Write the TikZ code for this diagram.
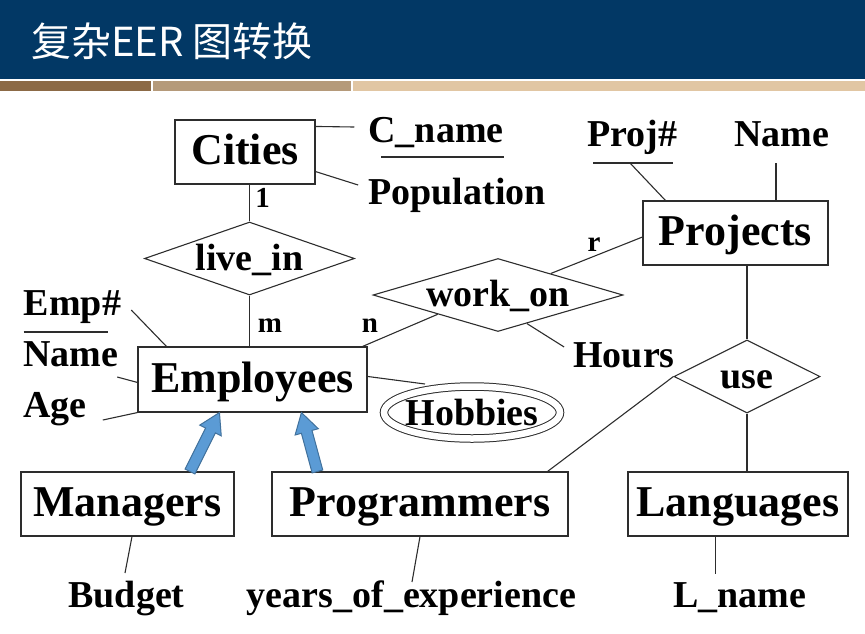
\documentclass[tikz,border=0pt]{standalone}
\usepackage{fontspec}
\setmainfont{Liberation Serif}
\newfontfamily\cjkfont{Noto Sans CJK SC}
\usetikzlibrary{shapes.geometric,calc}
\definecolor{band}{RGB}{2,56,101}
\definecolor{stripeA}{RGB}{140,106,70}
\definecolor{stripeB}{RGB}{181,154,122}
\definecolor{stripeC}{RGB}{225,198,163}
\definecolor{isafill}{RGB}{91,155,213}
\definecolor{isaline}{RGB}{65,113,156}
\definecolor{ink}{RGB}{45,45,45}
\newcommand\isaarrow[2]{%
  \path ($(#2)!20pt!(#1)$) coordinate (isah);
  \filldraw[isa] ($(#1)!5.5pt!90:(#2)$) -- ($(isah)!5.5pt!90:(#2)$) -- ($(isah)!12pt!90:(#2)$) -- (#2)
    -- ($(isah)!12pt!-90:(#2)$) -- ($(isah)!5.5pt!-90:(#2)$) -- ($(#1)!5.5pt!-90:(#2)$) -- cycle;}
\begin{document}
\begin{tikzpicture}[x=1pt,y=-1pt,
  entity/.style={draw=ink, line width=1.1pt, rectangle, inner sep=0pt,
    font=\bfseries\fontsize{44}{50}\selectfont, text height=26.5pt, text depth=1.5pt},
  rel/.style={draw=ink, line width=1.1pt, diamond, inner sep=0pt,
    font=\bfseries\fontsize{38}{44}\selectfont, text height=23.5pt, text depth=0pt},
  attr/.style={inner sep=0pt, anchor=base, font=\bfseries\fontsize{38}{44}\selectfont},
  card/.style={inner sep=0pt, anchor=base, font=\bfseries\fontsize{29}{34}\selectfont},
  conn/.style={draw=ink, line width=1.1pt},
  isa/.style={fill=isafill, draw=isaline, line width=1pt, line join=miter},
  title/.style={anchor=base west, inner sep=0pt, text=white, font=\cjkfont\fontsize{40}{44}\selectfont}]
\useasboundingbox (0,0) rectangle (865,633);
% header
\fill[band] (0,0) rectangle (865,79);
\fill[stripeA] (0,81) rectangle (151,91);
\fill[stripeB] (153,81) rectangle (351,91);
\fill[stripeC] (353,81) rectangle (865,91);
\node[title] (ttl) at (31,56) {复杂EER 图转换};

% entities
\node[entity, minimum width=140pt, minimum height=64pt] (cities) at (245,152) {Cities};
\node[entity, minimum width=185pt, minimum height=64pt] (projects) at (735.5,233) {Projects};
\node[entity, minimum width=229pt, minimum height=65pt] (emp) at (252.5,379.5) {Employees};
\node[entity, minimum width=213pt, minimum height=64pt] (managers) at (127.5,504) {Managers};
\node[entity, minimum width=296pt, minimum height=64pt] (programmers) at (420,504) {Programmers};
\node[entity, minimum width=220pt, minimum height=64pt] (languages) at (738,504) {Languages};

% relationships
\node[rel, minimum width=210pt, minimum height=73pt, aspect=2.88] (livein) at (249.5,258.5) {live\_in};
\node[rel, minimum width=250pt, minimum height=73pt, aspect=3.42] (workon) at (498,295) {work\_on};
\node[rel, minimum width=146pt, minimum height=73pt, aspect=2] (use) at (747,376.5) {use};

% attributes
\node[attr] (cname) at (436,142) {C\_name};
\node[attr] (pop) at (457,204) {Population};
\node[attr] (projnum) at (632.5,146) {Proj\#};
\node[attr] (pname) at (781.5,146) {Name};
\node[attr] (empnum) at (72.5,315) {Emp\#};
\node[attr] (ename) at (70.5,366) {Name};
\node[attr] (age) at (55,417) {Age};
\node[attr] (hours) at (624,367) {Hours};
\node[attr] (hobbies) at (472,425) {Hobbies};
\node[attr] (budget) at (126.5,607) {Budget};
\node[attr] (years) at (411.5,607) {years\_of\_experience};
\node[attr] (lname) at (740,607) {L\_name};

% cardinalities
\node[card] (c1) at (262.5,207) {1};
\node[card] (cm) at (270,332) {m};
\node[card] (cn) at (370,332) {n};
\node[card] (cr) at (594,251.5) {r};

% key underlines
\draw[conn] ($(cname.base west)+(13,15)$) -- ($(cname.base east)+(0,15)$);
\draw[conn] ($(projnum.base west)+(6,17)$) -- ($(projnum.base east)+(-5,17)$);
\draw[conn] ($(empnum.base west)+(0,17)$) -- ($(empnum.base east)+(-13,17)$);

% multivalued attribute ellipse
\coordinate (hobc) at ($(hobbies.base)+(0,-12.5)$);
\draw[ink, line width=1pt, double, double distance=6.5pt] (hobc) ellipse [x radius=88pt, y radius=26pt];

% connectors
\draw[conn] ($(cities.north east)+(0,7)$) -- ($(cname.base west)+(-14,-15)$);
\draw[conn] ($(cities.south east)+(0,-13)$) -- ($(pop.base west)+(-10,-19)$);
\draw[conn] (livein.north) -- (livein.north |- cities.south);
\draw[conn] (livein.south) -- (livein.south |- emp.north);
\draw[conn] ($(emp.north east)+(-5,0)$) -- ($(workon.west)!0.52!(workon.south)$);
\draw[conn] ($(workon.north)!0.42!(workon.east)$) -- ($(projects.west)+(0,4)$);
\draw[conn] ($(workon.south)!0.23!(workon.east)$) -- ($(hours.base west)+(-9,-20)$);
\draw[conn] ($(projnum.base)+(-2.5,17)$) -- ($(projects.north west)+(23,0)$);
\draw[conn] ($(pname.base)+(-5.5,17)$) coordinate (pn) -- (pn |- projects.north);
\draw[conn] (use.north) -- (use.north |- projects.south);
\draw[conn] (use.south) -- (use.south |- languages.north);
\draw[conn] (use.west) -- ($(programmers.north east)+(-21,0)$);
\draw[conn] ($(empnum.base east)+(10,-5)$) -- ($(emp.north west)+(29,0)$);
\draw[conn] ($(ename.base east)+(-1,11)$) -- ($(emp.north west)+(0,36)$);
\draw[conn] ($(age.base east)+(16,3)$) -- (emp.south west);
\draw[conn] ($(emp.north east)+(0,30)$) -- ($(hobc)+(-47,-28.5)$);
\draw[conn] ($(managers.south)+(4.5,0)$) -- ($(budget.base)+(-1.5,-34)$);
\draw[conn] (programmers.south) -- ($(years.base)+(0.5,-25)$);
\draw[conn] ($(languages.south)+(-22.5,0)$) coordinate (ls) -- ($(ls)+(0,37)$);

% ISA arrows
\coordinate (mtail) at ($(managers.north)+(62.5,0)$);
\coordinate (mtip) at ($(emp.south west)+(82,0)$);
\coordinate (ptail) at ($(programmers.north west)+(46,0)$);
\coordinate (ptip) at ($(emp.south west)+(164,0)$);
\isaarrow{mtail}{mtip}
\isaarrow{ptail}{ptip}
\end{tikzpicture}
\end{document}
